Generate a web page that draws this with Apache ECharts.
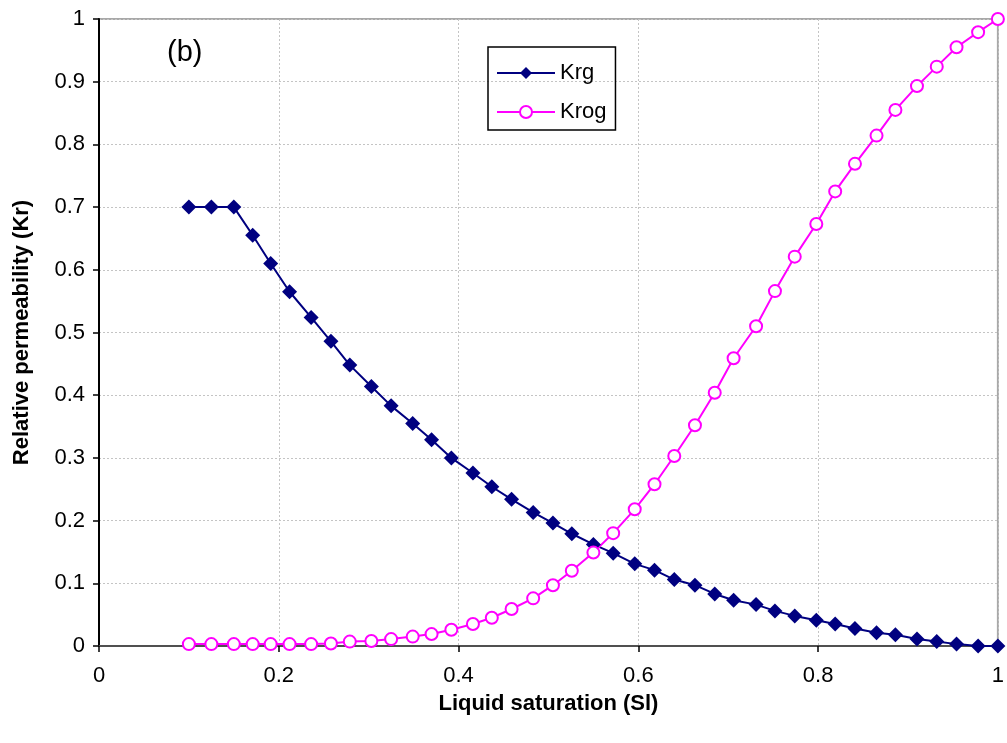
<!DOCTYPE html>
<html>
<head>
<meta charset="utf-8">
<script src="https://cdn.jsdelivr.net/npm/echarts@6/dist/echarts.min.js"></script>
<style>
    html, body { margin: 0; padding: 0; background: #fff; }
    #main { width: 1007px; height: 743px; }
</style>
</head>
<body>
<div id="main"></div>
<script>
// liquid saturation (Sl), shared by both curves
const saturation = [
    0.1, 0.125, 0.15, 0.171, 0.191, 0.212, 0.236, 0.258, 0.279, 0.303,
    0.325, 0.349, 0.37, 0.392, 0.416, 0.437, 0.459, 0.483, 0.505, 0.526,
    0.55, 0.572, 0.596, 0.618, 0.64, 0.663, 0.685, 0.706, 0.731, 0.752,
    0.774, 0.798, 0.819, 0.841, 0.865, 0.886, 0.91, 0.932, 0.954, 0.978, 1.0
];
const krg = [
    0.7, 0.7, 0.7, 0.655, 0.61, 0.565, 0.524, 0.486, 0.448, 0.414,
    0.383, 0.355, 0.329, 0.3, 0.276, 0.254, 0.234, 0.213, 0.196, 0.179,
    0.162, 0.148, 0.131, 0.121, 0.106, 0.097, 0.083, 0.073, 0.066, 0.056,
    0.048, 0.041, 0.035, 0.028, 0.021, 0.018, 0.011, 0.007, 0.003, 0.0, 0.0
];
const krog = [
    0.003, 0.003, 0.003, 0.003, 0.003, 0.003, 0.003, 0.004, 0.007, 0.008,
    0.011, 0.015, 0.019, 0.026, 0.035, 0.045, 0.059, 0.076, 0.097, 0.12,
    0.149, 0.18, 0.218, 0.258, 0.303, 0.352, 0.404, 0.459, 0.51, 0.566,
    0.621, 0.673, 0.725, 0.769, 0.814, 0.855, 0.893, 0.924, 0.955, 0.979, 1.0
];
const seriesNames = ['Krg', 'Krog'];

function pairs(ys) {
    return saturation.map(function (x, i) { return [x, ys[i]]; });
}

const chartDom = document.getElementById('main');
let myChart = echarts.init(chartDom);
let option;

const font = 'Liberation Sans, Arial, sans-serif';
function gridLine() {
    return { show: true, lineStyle: { color: '#c4c4c4', width: 1, type: [2, 2] } };
}

option = {
    animation: false,
    backgroundColor: '#fff',
    textStyle: { fontFamily: font },
    grid: {
        left: 99, right: 9, top: 19, bottom: 97,
        show: true,
        borderColor: '#a8a8a8',
        borderWidth: 2
    },
    graphic: [{
        type: 'text',
        left: 167,
        top: 38,
        style: { text: '(b)', font: '29px ' + font, fill: '#000' }
    }],
    legend: {
        data: seriesNames,
        orient: 'vertical',
        left: 488,
        top: 47,
        padding: [15, 9, 7, 8],
        itemGap: 17,
        itemWidth: 58,
        itemHeight: 15,
        borderColor: '#000',
        borderWidth: 1.5,
        textStyle: { fontSize: 22, color: '#000', fontFamily: font, lineHeight: 22 }
    },
    xAxis: {
        type: 'value',
        min: 0,
        max: 1,
        interval: 0.2,
        name: 'Liquid saturation (Sl)',
        nameLocation: 'middle',
        nameGap: 47,
        nameTextStyle: { fontSize: 22, fontWeight: 'bold', color: '#000' },
        axisLine: { show: true, onZero: false, lineStyle: { color: '#505050', width: 2 } },
        axisTick: { show: true, length: 6, lineStyle: { color: '#000', width: 1.5 } },
        axisLabel: { fontSize: 22, color: '#000', margin: 19 },
        splitLine: gridLine()
    },
    yAxis: {
        type: 'value',
        min: 0,
        max: 1,
        interval: 0.1,
        name: 'Relative permeability (Kr)',
        nameLocation: 'middle',
        nameGap: 66,
        nameTextStyle: { fontSize: 22, fontWeight: 'bold', color: '#000' },
        axisLine: { show: true, lineStyle: { color: '#000', width: 2 } },
        axisTick: { show: true, length: 6, lineStyle: { color: '#000', width: 1.5 } },
        axisLabel: { fontSize: 22, color: '#000', margin: 14 },
        splitLine: gridLine()
    },
    series: [
        {
            name: seriesNames[0],
            type: 'line',
            data: pairs(krg),
            symbol: 'diamond',
            symbolSize: 15,
            lineStyle: { color: '#000080', width: 2, type: 'solid' },
            itemStyle: { color: '#000080' }
        },
        {
            name: seriesNames[1],
            type: 'line',
            data: pairs(krog),
            symbol: 'circle',
            symbolSize: 12,
            showSymbol: true,
            lineStyle: { color: '#ff00ff', width: 2, type: 'solid' },
            itemStyle: { color: '#ffffff', borderColor: '#ff00ff', borderWidth: 2, borderType: 'solid' }
        }
    ]
};

option && myChart.setOption(option);
</script>
</body>
</html>
